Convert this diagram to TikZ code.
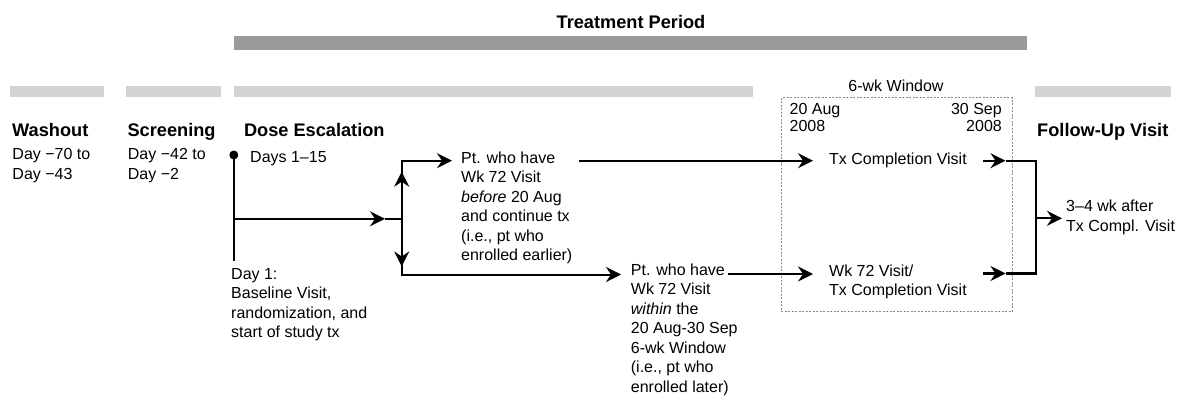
\documentclass[tikz,border=0pt]{standalone}
\usepackage{fontspec}
\setmainfont{Liberation Sans}
\usetikzlibrary{arrows.meta}
\definecolor{darkbar}{HTML}{9B9B9B}
\definecolor{lightbar}{HTML}{D3D3D3}
\definecolor{boxgray}{HTML}{8A8A8A}
\newcommand{\bodyfont}{\fontsize{16}{19.5}\selectfont}
\newcommand{\tightfont}{\fontsize{16}{16.7}\selectfont}
\newcommand{\headfont}{\fontsize{18.2}{22}\selectfont\bfseries}
\begin{document}
\begin{tikzpicture}[x=1pt,y=-1pt,
  txt/.style={anchor=north west,inner sep=0pt,align=left,font=\bodyfont,yshift=13.65pt,execute at begin node=\strut},
  tighttxt/.style={inner sep=0pt,font=\tightfont,yshift=11.69pt,execute at begin node=\strut},
  head/.style={anchor=base west,inner sep=0pt,font=\headfont},
  ln/.style={line width=2pt,black},
  arr/.style={line width=2pt,black,-{Stealth[length=15pt,width=15pt,inset=5pt]}},
  winbox/.style={draw=boxgray,line width=0.9pt,dash pattern=on 2pt off 1.5pt}]
\useasboundingbox (0,0) rectangle (1181,398);
\fill[white] (0,0) rectangle (1181,398);
% bars
\fill[darkbar] (234,36) rectangle (1027,50);
\fill[lightbar] (9.5,86) rectangle (104,97.3);
\fill[lightbar] (126,86) rectangle (221,97.3);
\fill[lightbar] (234,86) rectangle (753,97.3);
\fill[lightbar] (1035,86) rectangle (1171,97.3);
% titles
\node[anchor=base,inner sep=0pt,font=\headfont] (tp) at (631,28.3) {Treatment Period};
\node[head] (wash) at (12,136.7) {Washout};
\node[head] (scr) at (127.4,136.7) {Screening};
\node[head] (dose) at (243.8,136.7) {Dose Escalation};
\node[head] (fu) at (1037,136.7) {Follow-Up Visit};
% window box
\draw[winbox] (781.5,97.7) rectangle (1012,311.7);
\node[anchor=base,inner sep=0pt,font=\bodyfont] (win) at (896,91.7) {6-wk Window};
\node[tighttxt,anchor=north west,align=left] (aug) at (789.4,115) {20 Aug\\2008};
\node[tighttxt,anchor=north east,align=right] (sep) at (1002,115) {30 Sep\\2008};
% texts
\node[txt] (washd) at (12.3,162) {Day −70 to\\Day −43};
\node[txt] (scrd) at (127.7,162) {Day −42 to\\Day −2};
\node[txt] (days) at (250,162) {Days 1–15};
\node[txt] (day1) at (231,281.7) {Day 1:\\Baseline Visit,\\randomization, and\\start of study tx};
\node[txt] (ptA) at (461,165) {Pt. who have\\Wk 72 Visit\\\textit{before} 20 Aug\\and continue tx\\(i.e., pt who\\enrolled earlier)};
\node[txt] (ptB) at (630.7,277) {Pt. who have\\Wk 72 Visit\\\textit{within} the\\20 Aug-30 Sep\\6-wk Window\\(i.e., pt who\\enrolled later)};
\node[txt] (txc) at (829,164.5) {Tx Completion Visit};
\node[txt] (wk72) at (829,278) {Wk 72 Visit/\\Tx Completion Visit};
\node[txt] (fud) at (1066,213.5) {3–4 wk after\\Tx Compl. Visit};
% day-1 marker
\node[circle,fill=black,inner sep=0pt,minimum size=9pt] (dot) at (233.8,155) {};
\coordinate (d1end) at (233.8,261);
\draw[ln] (dot.center) -- (d1end);
% split
\coordinate (h0) at (235,218.8);
\coordinate (htip) at (385,218.8);
\coordinate (split) at (401.7,218.8);
\coordinate (upT) at (401.7,171.7);
\coordinate (dnT) at (401.7,266.5);
\coordinate (aT) at (452,160.7);
\coordinate (bT) at (621,274.5);
\draw[arr,line width=1.6pt] (h0) -- (htip);
\draw[ln,line width=1.6pt] (htip) -- (split);
\draw[arr] (split) -- (upT);
\draw[arr] (split) -- (dnT);
\draw[arr] (split) |- (aT);
\draw[arr] (split) |- (bT);
% to window
\coordinate (a1) at (579,160.7);
\coordinate (a2) at (813,160.7);
\coordinate (b1) at (728,274);
\coordinate (b2) at (813,274);
\draw[arr] (a1) -- (a2);
\draw[arr] (b1) -- (b2);
% out of window
\coordinate (c1) at (982.7,160.7);
\coordinate (c2) at (1005.5,160.7);
\coordinate (e1) at (982.7,273.5);
\coordinate (e2) at (1005.5,273.5);
\coordinate (j1) at (1035.5,160.7);
\coordinate (j2) at (1035.5,273.5);
\coordinate (jm) at (1035.5,218.3);
\coordinate (ft) at (1062,218.3);
\draw[arr] (c1) -- (c2);
\draw[arr] (e1) -- (e2);
\draw[ln] (c2) -- (j1) -- (j2) -- (e2);
\draw[arr] (jm) -- (ft);
\end{tikzpicture}
\end{document}
